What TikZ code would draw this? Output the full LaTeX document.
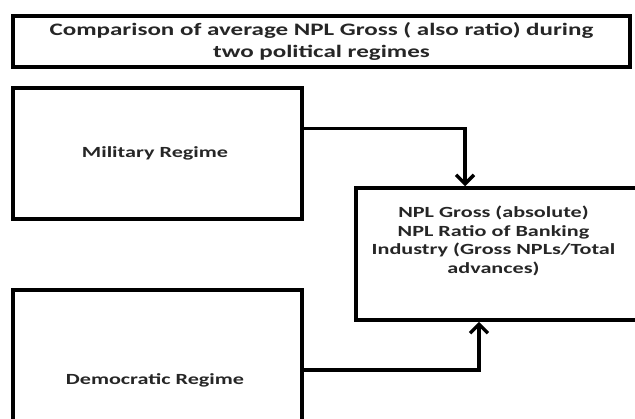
\documentclass[tikz,border=0pt]{standalone}
\usepackage{fontspec}
\setmainfont{Carlito}[FakeStretch=1.43]
\usepackage{tikz}
\usetikzlibrary{calc,shapes,arrows.meta}
\tikzstyle{whitebox}=[rectangle,draw=black,fill=white,line width=3.5pt,
                      text=black!85,font=\fontsize{15.5}{18.5}\selectfont\bfseries,
                      inner sep=0pt,align=center]
\tikzstyle{feedline}=[draw=black,line width=3.5pt,
                      -{Straight Barb[length=9pt,width=18pt,line width=3.5pt]}]
\newcommand\nodelabel[3]{\parbox[c][#2][t]{#1}{\centering #3}}

\begin{document}
\begin{tikzpicture}[x=1pt,y=-1pt]
    \useasboundingbox (0,0) rectangle (635,418);
    \clip (0,0) rectangle (635,418);
    	\node [whitebox,minimum width=617pt,minimum height=51pt,
    	       font=\fontsize{17.5}{22}\selectfont\bfseries] (title) at (321.5,41.5) {
    		Comparison of average NPL Gross ( also ratio) during\\two political regimes
    	};
    	\node [whitebox,minimum width=289pt,minimum height=131pt] (military) at (157.5,153.5) {
    		Military Regime
    	};
    	\node [whitebox,minimum width=289pt,minimum height=180pt] (democratic) at (157.5,380) {
    		Democratic Regime
    	};
    	\node [whitebox,minimum width=292pt,minimum height=132pt] (npl) at (502,254) {
    		\nodelabel{275pt}{118pt}{\vspace{11pt}NPL Gross (absolute)\\NPL Ratio of Banking\\Industry (Gross NPLs/Total\\advances)}\hspace{12pt}
    	};
    	\draw [feedline] ([yshift=25pt]military.east) -| ([xshift=-37pt]npl.north);
    	\draw [feedline] ([yshift=10pt]democratic.east) -| ([xshift=-23pt]npl.south);
    \end{tikzpicture}
\end{document}
